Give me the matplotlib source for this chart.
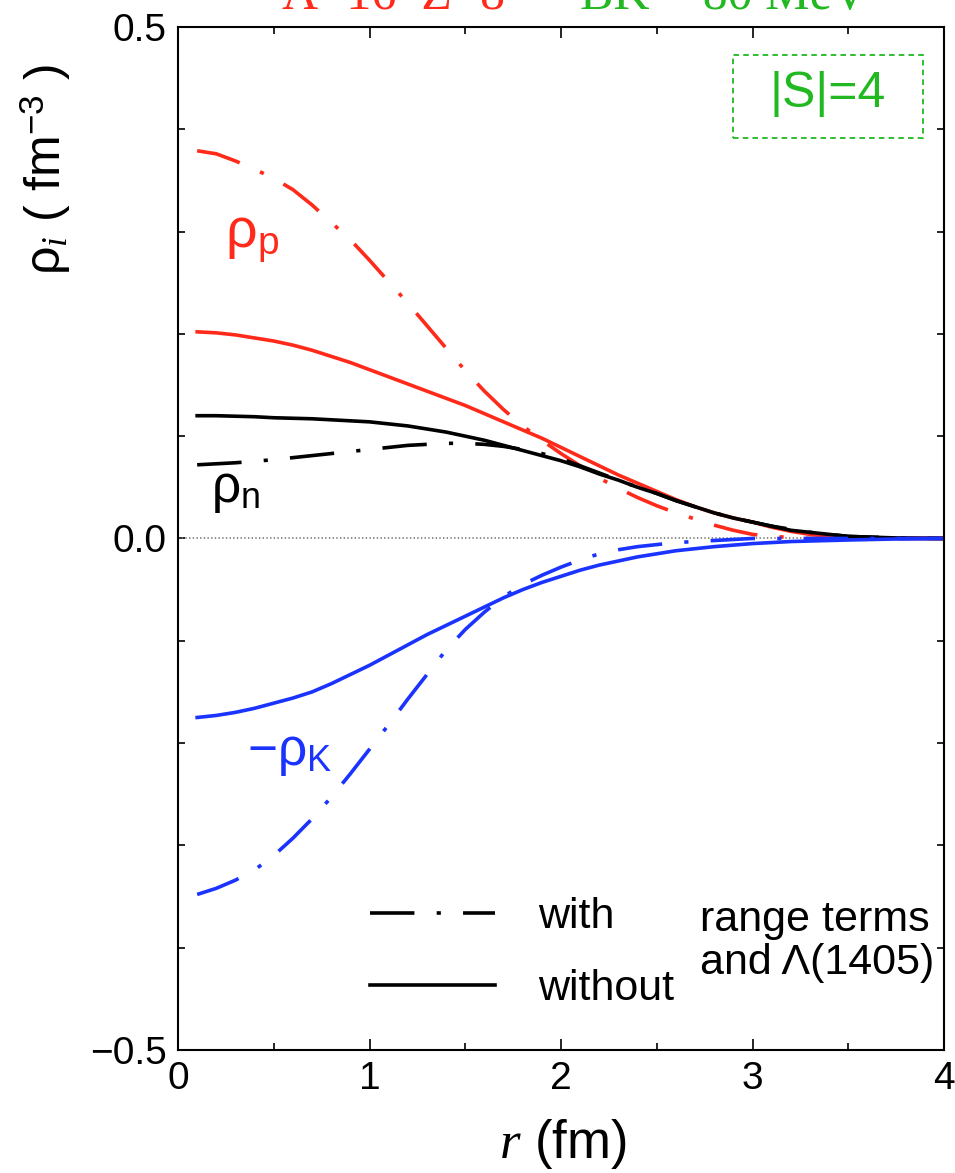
import matplotlib
matplotlib.use('Agg')
import matplotlib.pyplot as plt
from matplotlib.lines import Line2D
from matplotlib.patches import Rectangle
from matplotlib.ticker import MultipleLocator

plt.rcParams['font.family'] = ['Liberation Sans', 'DejaVu Sans']
plt.rcParams['mathtext.fontset'] = 'custom'
plt.rcParams['mathtext.rm'] = 'Liberation Sans'
plt.rcParams['mathtext.it'] = 'Liberation Serif:italic'
plt.rcParams['lines.scale_dashes'] = False

# radius (fm)
r = [0.1, 0.2, 0.3, 0.4, 0.5, 0.6, 0.7, 0.8, 0.9, 1.0,
     1.1, 1.2, 1.3, 1.4, 1.5, 1.6, 1.7, 1.8, 1.9, 2.0,
     2.1, 2.2, 2.3, 2.4, 2.5, 2.6, 2.7, 2.8, 2.9, 3.0,
     3.1, 3.2, 3.3, 3.4, 3.5, 3.75, 4.0]

# proton density, with / without range terms and Lambda(1405)
rho_p_with = [0.379, 0.376, 0.369, 0.361, 0.352, 0.341, 0.326, 0.309, 0.292, 0.272,
              0.251, 0.230, 0.208, 0.186, 0.164, 0.144, 0.126, 0.110, 0.096, 0.083,
              0.071, 0.059, 0.049, 0.040, 0.032, 0.025, 0.019, 0.013, 0.008, 0.004,
              0.002, 0.001, 0.0, 0.0, 0.0, 0.0, 0.0]
rho_p_without = [0.202, 0.201, 0.199, 0.196, 0.193, 0.189, 0.184, 0.178, 0.172, 0.165,
                 0.158, 0.151, 0.144, 0.137, 0.130, 0.122, 0.114, 0.106, 0.098, 0.089,
                 0.080, 0.071, 0.062, 0.054, 0.046, 0.038, 0.031, 0.025, 0.020, 0.016,
                 0.011, 0.007, 0.004, 0.002, 0.001, 0.0003, 0.0]

# neutron density
rho_n_with = [0.072, 0.073, 0.074, 0.0755, 0.077, 0.079, 0.081, 0.083, 0.085, 0.087,
              0.089, 0.091, 0.092, 0.093, 0.093, 0.092, 0.090, 0.087, 0.083, 0.078,
              0.071, 0.064, 0.057, 0.050, 0.044, 0.037, 0.031, 0.025, 0.020, 0.016,
              0.012, 0.009, 0.006, 0.004, 0.002, 0.0005, 0.0]
rho_n_without = [0.120, 0.120, 0.1195, 0.119, 0.118, 0.1175, 0.117, 0.116, 0.115, 0.114,
                 0.112, 0.110, 0.107, 0.104, 0.100, 0.096, 0.091, 0.086, 0.081, 0.076,
                 0.070, 0.063, 0.057, 0.050, 0.044, 0.037, 0.031, 0.025, 0.020, 0.016,
                 0.012, 0.008, 0.006, 0.004, 0.002, 0.0005, 0.0]

# minus kaon density
rho_k_with = [-0.348, -0.342, -0.334, -0.324, -0.310, -0.293, -0.274, -0.253, -0.230, -0.206,
              -0.182, -0.157, -0.133, -0.109, -0.089, -0.072, -0.057, -0.045, -0.036, -0.028,
              -0.021, -0.015, -0.011, -0.008, -0.006, -0.004, -0.003, -0.002, -0.001, 0.0,
              0.0, 0.0, 0.0, 0.0, 0.0, 0.0, 0.0]
rho_k_without = [-0.175, -0.173, -0.170, -0.166, -0.161, -0.156, -0.150, -0.142, -0.133, -0.124,
                 -0.114, -0.104, -0.094, -0.085, -0.076, -0.067, -0.058, -0.050, -0.043, -0.037,
                 -0.031, -0.026, -0.022, -0.018, -0.015, -0.012, -0.010, -0.008, -0.0065, -0.005,
                 -0.004, -0.003, -0.0025, -0.002, -0.0015, -0.0005, 0.0]

red = '#ff2a1a'
blue = '#1a33ff'
green = '#22b822'
dd = (32, 16, 3, 16)
lw = 2.6

fig = plt.figure(figsize=(9.55, 11.73), dpi=100)
ax = fig.add_axes([0.1864, 0.1049, 0.8021, 0.8721])

ax.axhline(0, color='#777777', lw=1.2, ls=':')

ax.plot(r, rho_p_with, color=red, lw=lw, dashes=dd)
ax.plot(r, rho_p_without, color=red, lw=lw)
ax.plot(r, rho_n_with, color='black', lw=lw, dashes=dd)
ax.plot(r, rho_n_without, color='black', lw=lw)
ax.plot(r, rho_k_with, color=blue, lw=lw, dashes=dd)
ax.plot(r, rho_k_without, color=blue, lw=lw)

ax.set_xlim(0, 4)
ax.set_ylim(-0.5, 0.5)
ax.xaxis.set_major_locator(MultipleLocator(1))
ax.xaxis.set_minor_locator(MultipleLocator(0.5))
ax.yaxis.set_major_locator(MultipleLocator(0.5))
ax.yaxis.set_minor_locator(MultipleLocator(0.1))
ax.tick_params(which='both', direction='in', top=True, right=True,
               labelsize=28, width=1.2)
ax.tick_params(axis='x', which='major', length=8, pad=8)
ax.tick_params(axis='x', which='minor', length=5)
ax.tick_params(axis='y', which='both', length=5, pad=8)
for s in ax.spines.values():
    s.set_linewidth(1.5)

ax.set_xlabel('$r$ (fm)', fontsize=38)
ax.xaxis.set_label_coords(0.5026, -0.066)
ax.set_ylabel('ρ$_i$ ( fm$^{\\mathrm{-3}}$ )', fontsize=36)
ax.yaxis.set_label_coords(-0.137, 0.86)

ax.text(0.386, 0.293, 'ρ$_\\mathrm{p}$', color=red, fontsize=40,
        ha='center', va='center')
ax.text(0.30, 0.047, 'ρ$_\\mathrm{n}$', color='black', fontsize=37,
        ha='center', va='center')
ax.text(0.585, -0.210, '−ρ$_\\mathrm{K}$', color=blue, fontsize=37,
        ha='center', va='center')

ax.add_patch(Rectangle((0.7245, 0.8915), 0.2481, 0.0811, transform=ax.transAxes,
                       fill=False, edgecolor=green, lw=1.3, ls=(0, (4, 3))))
ax.text(0.8486, 0.9345, '|S|=4', color=green, fontsize=36,
        ha='center', va='center', transform=ax.transAxes)

handles = [Line2D([], [], color='black', lw=lw, dashes=dd),
           Line2D([], [], color='black', lw=lw)]
ax.legend(handles, ['with', 'without'], loc='center left',
          bbox_to_anchor=(0.2507, 0.0948), frameon=False, fontsize=31,
          handlelength=2.9, handletextpad=1.0, labelspacing=0.75,
          borderpad=0, borderaxespad=0)
ax.text(0.681, 0.1056, 'range terms\nand Λ(1405)', fontsize=31,
        ha='left', va='center', linespacing=1.1, transform=ax.transAxes)

fig.text(0.295, 0.9924, 'A=16  Z=8', color=red, fontsize=36,
         family='Liberation Serif', va='baseline')
fig.text(0.607, 0.9924, 'BK = 80 MeV', color=green, fontsize=36,
         family='Liberation Serif', va='baseline')

fig.savefig('out.png', dpi=100)
